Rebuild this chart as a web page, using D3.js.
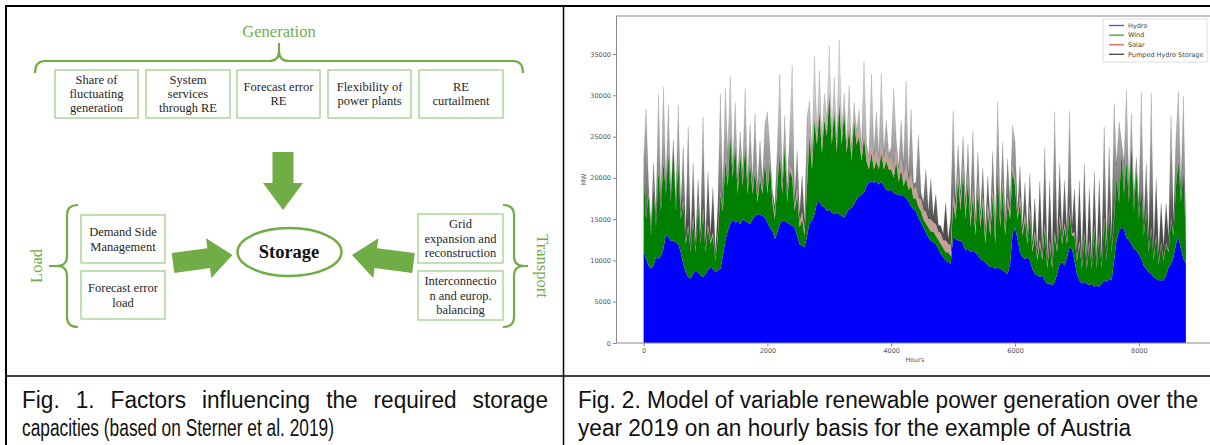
<!DOCTYPE html>
<html>
<head>
<meta charset="utf-8">
<script src="https://cdn.jsdelivr.net/npm/d3@7"></script>
<style>
  html, body { margin: 0; padding: 0; background: #fff; }
  svg { display: block; }
</style>
</head>
<body>
<div id="fig"></div>
<script>
// one sample every 40 h over the year (values below in GW)
const hours = d3.range(0, 8761, 40)

const hydro = [
  11.2, 10.2, 9.4, 9.0, 9.4, 10.4, 10.2, 10.6, 11.4, 13.2,
  12.8, 12.4, 12.4, 12.2, 12.0, 11.0, 9.6, 8.6, 8.0, 7.8,
  8.4, 8.8, 8.6, 8.2, 8.0, 8.4, 8.8, 9.2, 9.0, 8.6,
  8.8, 9.0, 10.6, 12.4, 13.6, 14.4, 15.0, 14.6, 14.8, 14.4,
  15.0, 14.8, 14.6, 14.4, 15.0, 15.4, 15.6, 15.6, 15.4, 15.2,
  14.6, 14.0, 13.6, 12.6, 13.4, 14.4, 14.8, 14.8, 14.6, 14.4,
  14.2, 14.0, 13.0, 12.0, 11.8, 11.6, 13.0, 14.6, 14.8, 15.6,
  17.0, 17.2, 16.6, 16.4, 16.0, 16.2, 15.8, 15.6, 15.8, 15.6,
  15.4, 15.2, 15.8, 16.2, 16.4, 16.8, 17.4, 17.8, 18.0, 18.2,
  19.0, 19.4, 19.6, 19.4, 19.6, 19.2, 19.6, 19.0, 18.6, 18.4,
  18.6, 18.2, 18.0, 18.0, 17.8, 17.8, 17.6, 17.2, 16.6, 16.2,
  16.0, 15.2, 14.6, 14.0, 13.4, 12.8, 12.4, 12.2, 12.0, 11.4,
  10.8, 10.4, 10.0, 9.8, 9.6, 12.8, 12.6, 12.4, 12.4, 12.0,
  11.2, 11.4, 11.0, 11.2, 11.0, 10.6, 10.2, 10.0, 9.8, 9.4,
  9.2, 9.2, 9.0, 9.2, 9.0, 8.8, 8.6, 8.4, 9.6, 13.2,
  14.0, 12.6, 11.0, 10.4, 10.2, 10.4, 10.0, 9.0, 8.4, 8.2,
  8.0, 8.2, 7.6, 7.2, 7.2, 7.0, 7.4, 8.4, 9.6, 9.8,
  9.4, 10.4, 11.6, 11.4, 10.0, 8.4, 7.6, 7.2, 7.4, 7.2,
  7.0, 7.2, 6.8, 7.0, 6.8, 7.2, 7.6, 7.4, 7.8, 7.6,
  10.0, 12.4, 13.6, 14.0, 13.8, 12.8, 12.4, 12.0, 11.4, 11.2,
  10.8, 10.2, 9.4, 9.0, 8.6, 8.4, 8.0, 7.8, 7.6, 7.6,
  7.6, 8.2, 9.2, 9.6, 10.4, 12.0, 12.8, 11.4, 10.2, 9.6
]

const wind = [
  9.8, 4.8, 8.6, 4.0, 9.6, 3.6, 10.8, 5.4, 10.6, 4.8,
  10.2, 4.6, 11.6, 3.8, 10.0, 4.0, 7.4, 3.4, 6.0, 3.2,
  6.6, 2.2, 8.4, 3.8, 8.0, 2.6, 5.2, 2.8, 4.0, 1.4,
  4.2, 9.0, 5.4, 9.6, 5.4, 10.6, 5.0, 9.4, 3.2, 8.6,
  4.0, 9.2, 3.4, 7.6, 3.0, 5.6, 1.4, 4.4, 2.6, 6.8,
  3.4, 8.0, 3.4, 2.4, 5.6, 8.6, 3.2, 9.2, 2.4, 6.6,
  5.8, 2.0, 5.0, 2.0, 3.2, 1.4, 6.0, 10.4, 6.2, 11.4,
  7.0, 10.8, 6.4, 10.6, 9.0, 13.8, 8.2, 12.4, 7.2, 13.4,
  8.6, 12.8, 7.2, 9.8, 5.6, 10.2, 6.6, 7.2, 4.0, 6.8,
  3.0, 1.6, 3.4, 1.6, 2.4, 1.8, 3.4, 2.0, 3.4, 2.6,
  2.4, 1.8, 4.0, 1.5, 3.2, 1.2, 2.4, 1.3, 2.4, 1.3,
  1.5, 1.3, 1.4, 1.0, 1.1, 1.2, 1.1, 1.3, 1.0, 1.1,
  1.2, 1.1, 1.0, 1.2, 0.9, 4.2, 2.4, 7.6, 3.6, 9.0,
  3.8, 8.6, 3.0, 6.8, 2.0, 8.4, 3.8, 7.0, 2.2, 6.6,
  3.8, 8.8, 3.0, 11.8, 5.0, 10.2, 4.4, 8.6, 5.4, 7.8,
  5.0, 2.4, 6.0, 2.6, 4.8, 1.6, 6.0, 2.0, 4.6, 1.8,
  4.0, 1.8, 6.4, 1.8, 4.8, 2.0, 5.6, 2.6, 5.4, 2.2,
  4.6, 1.6, 4.4, 1.6, 3.0, 1.6, 4.4, 1.8, 5.6, 1.8,
  5.0, 1.8, 7.2, 2.0, 6.2, 1.8, 7.4, 2.6, 8.2, 3.4,
  5.0, 7.6, 3.4, 9.0, 4.2, 9.2, 4.6, 12.0, 4.6, 9.8,
  4.2, 8.8, 3.6, 7.0, 2.4, 5.6, 2.0, 5.2, 1.9, 4.4,
  2.4, 3.8, 1.8, 5.4, 2.6, 7.0, 9.2, 5.6, 10.8, 2.4
]

const solar = [
  0.2, 0.1, 0.3, 0.1, 0.2, 0.1, 0.3, 0.2, 0.2, 0.1,
  0.3, 0.1, 0.3, 0.2, 0.3, 0.1, 0.3, 0.2, 0.3, 0.2,
  0.4, 0.2, 0.4, 0.2, 0.4, 0.2, 0.4, 0.3, 0.4, 0.2,
  0.4, 0.3, 0.5, 0.3, 0.5, 0.3, 0.5, 0.4, 0.5, 0.3,
  0.6, 0.4, 0.6, 0.4, 0.6, 0.4, 0.7, 0.4, 0.6, 0.4,
  0.7, 0.5, 0.7, 0.5, 0.7, 0.5, 0.8, 0.5, 0.7, 0.5,
  0.8, 0.5, 0.8, 0.6, 0.9, 0.6, 0.8, 0.6, 0.9, 0.6,
  0.9, 0.6, 1.0, 0.7, 0.9, 0.6, 1.0, 0.7, 0.9, 0.7,
  1.0, 0.7, 1.1, 0.8, 1.1, 0.8, 1.1, 0.8, 1.2, 0.9,
  1.3, 0.9, 1.4, 1.0, 1.3, 0.9, 1.4, 1.0, 1.4, 1.0,
  1.4, 1.0, 1.5, 1.0, 1.4, 1.1, 1.5, 1.0, 1.4, 1.1,
  1.4, 1.0, 1.4, 1.1, 1.4, 1.0, 1.5, 1.1, 1.4, 1.0,
  1.3, 0.9, 1.4, 1.0, 1.3, 0.9, 1.3, 0.9, 1.3, 0.9,
  1.2, 0.8, 1.2, 0.9, 1.1, 0.8, 1.1, 0.8, 1.0, 0.8,
  1.0, 0.7, 1.0, 0.7, 0.9, 0.7, 0.9, 0.7, 0.8, 0.6,
  0.8, 0.6, 0.8, 0.5, 0.7, 0.5, 0.7, 0.5, 0.6, 0.4,
  0.6, 0.4, 0.6, 0.4, 0.5, 0.3, 0.5, 0.3, 0.5, 0.3,
  0.5, 0.3, 0.5, 0.3, 0.4, 0.2, 0.4, 0.2, 0.4, 0.2,
  0.4, 0.2, 0.4, 0.2, 0.3, 0.2, 0.3, 0.2, 0.3, 0.1,
  0.3, 0.1, 0.3, 0.1, 0.2, 0.1, 0.2, 0.1, 0.2, 0.1,
  0.2, 0.1, 0.2, 0.1, 0.2, 0.1, 0.2, 0.1, 0.2, 0.1,
  0.2, 0.1, 0.2, 0.1, 0.2, 0.1, 0.2, 0.1, 0.2, 0.1
]

const phs = [
  0.8, 13.2, 0.7, 0.9, 2.6, 1.2, 8.8, 0.8, 8.8, 0.9,
  5.5, 0.8, 0.4, 0.8, 6.5, 0.9, 6.5, 0.8, 11.9, 0.8,
  6.4, 0.8, 2.4, 0.7, 11.0, 0.8, 6.3, 0.7, 5.4, 0.7,
  3.3, 11.9, 1.2, 8.6, 3.2, 7.0, 0.6, 4.7, 1.2, 2.3,
  1.0, 6.4, 0.9, 4.1, 1.0, 6.4, 0.9, 4.1, 0.9, 4.1,
  9.3, 1.0, 0.8, 1.0, 3.8, 9.1, 0.8, 3.0, 0.8, 3.9,
  12.8, 0.9, 4.5, 0.9, 4.4, 0.9, 7.5, 3.7, 1.2, 7.1,
  0.7, 4.4, 0.6, 2.5, 1.2, 5.4, 0.6, 3.5, 0.7, 7.0,
  0.6, 1.5, 0.1, 4.4, 0.5, 1.3, 0.6, 2.4, 0.5, 8.2,
  0.9, 0.6, 8.2, 1.0, 4.7, 0.6, 8.3, 1.0, 3.6, 0.9,
  1.3, 9.8, 1.2, 0.7, 4.5, 1.4, 10.2, 0.7, 7.9, 0.7,
  0.6, 7.7, 0.8, 0.9, 5.1, 0.9, 4.9, 0.7, 3.6, 0.8,
  0.9, 0.8, 4.6, 0.5, 3.3, 10.2, 0.8, 3.1, 0.9, 3.1,
  1.0, 3.3, 0.9, 6.8, 0.5, 3.3, 0.5, 3.4, 0.6, 3.4,
  0.6, 4.5, 0.6, 7.5, 0.7, 4.6, 0.7, 4.6, 0.8, 4.7,
  4.6, 0.4, 3.6, 0.5, 3.7, 0.5, 3.8, 0.5, 3.9, 0.6,
  7.0, 0.6, 9.0, 0.6, 7.1, 0.7, 14.5, 0.7, 6.2, 0.7,
  5.2, 0.7, 11.6, 0.7, 5.3, 0.8, 7.3, 0.8, 8.4, 0.8,
  6.4, 0.8, 6.4, 0.8, 6.5, 0.8, 10.9, 1.3, 7.5, 1.4,
  13.7, 1.4, 9.5, 1.4, 3.6, 8.5, 1.3, 3.7, 1.3, 1.4,
  1.3, 11.3, 1.3, 5.7, 1.3, 16.2, 1.4, 6.8, 1.1, 4.8,
  1.4, 4.8, 1.4, 12.4, 1.4, 5.8, 8.3, 1.4, 8.7, 0.9
]

const seriesNames = ['Hydro', 'Wind', 'Solar', 'Pumped Hydro Storage']
const xTicks = [0, 2000, 4000, 6000, 8000]
const yTicks = [0, 5000, 10000, 15000, 20000, 25000, 30000, 35000]

const genFactors = [
  ['Share of', 'fluctuating', 'generation'],
  ['System', 'services', 'through RE'],
  ['Forecast error', 'RE'],
  ['Flexibility of', 'power plants'],
  ['RE', 'curtailment']
]
const loadFactors = [['Demand Side', 'Management'], ['Forecast error', 'load']]
const transportFactors = [['Grid', 'expansion and', 'reconstruction'], ['Interconnectio', 'n and europ.', 'balancing']]

const W = 1210
const H = 445
const green = '#70ad47'
const boxLine = '#a3cf8c'
const serif = "'Liberation Serif', 'Times New Roman', serif"
const narrow = "'Liberation Sans Narrow', 'Arial Narrow', 'Liberation Sans', Arial, sans-serif"
const sans = "'DejaVu Sans', sans-serif"

const svg = d3.select('#fig').append('svg')
  .attr('width', W)
  .attr('height', H)
  .attr('viewBox', `0 0 ${W} ${H}`)

svg.append('rect').attr('width', W).attr('height', H).attr('fill', '#fff')

const defs = svg.append('defs')

// ---------- left panel: influencing factors ----------
const diag = svg.append('g')

diag.append('text')
  .attr('x', 279).attr('y', 37)
  .attr('text-anchor', 'middle')
  .attr('font-family', serif).attr('font-size', 16.5)
  .attr('fill', green)
  .text('Generation')

const braceStyle = function (sel) {
  sel.attr('fill', 'none').attr('stroke', green).attr('stroke-width', 2.2)
}

diag.append('path')
  .attr('d', 'M35,73 Q35,61 45,61 L269,61 Q279,61 279,51 L279,43 M279,51 Q279,61 289,61 L513,61 Q523,61 523,73')
  .call(braceStyle)
diag.append('path')
  .attr('d', 'M78,205 Q67,205 67,215 L67,256 Q67,266 57,266 L49,266 M57,266 Q67,266 67,276 L67,317 Q67,327 78,327')
  .call(braceStyle)
diag.append('path')
  .attr('d', 'M503,205 Q514,205 514,215 L514,256 Q514,266 524,266 L528,266 M524,266 Q514,266 514,276 L514,317 Q514,327 503,327')
  .call(braceStyle)

const factorBox = function (lines, x0, x1, y0, y1, lineGap) {
  const g = diag.append('g')
  g.append('rect')
    .attr('x', x0).attr('y', y0)
    .attr('width', x1 - x0).attr('height', y1 - y0)
    .attr('fill', '#fff').attr('stroke', boxLine).attr('stroke-width', 1.3)
  const cy = (y0 + y1) / 2
  lines.forEach(function (t, i) {
    g.append('text')
      .attr('x', (x0 + x1) / 2)
      .attr('y', cy + (i - (lines.length - 1) / 2) * lineGap)
      .attr('dy', '0.35em')
      .attr('text-anchor', 'middle')
      .attr('font-family', serif).attr('font-size', 12.5)
      .attr('fill', '#262626')
      .text(t)
  })
}

const genX = [[55, 138], [146, 230], [237, 320], [328, 411], [419, 503]]
genFactors.forEach(function (lines, i) {
  factorBox(lines, genX[i][0], genX[i][1], 70, 118, 14)
})
factorBox(loadFactors[0], 81, 165, 215, 263, 14.5)
factorBox(loadFactors[1], 81, 165, 271, 319, 14.5)
factorBox(transportFactors[0], 418, 503, 214, 263, 14.5)
factorBox(transportFactors[1], 418, 503, 271, 320, 14.5)

diag.append('text')
  .attr('transform', 'translate(36,266) rotate(-90)')
  .attr('dy', '0.35em')
  .attr('text-anchor', 'middle')
  .attr('font-family', serif).attr('font-size', 16.5)
  .attr('fill', green)
  .text('Load')

diag.append('text')
  .attr('transform', 'translate(543,266) rotate(90)')
  .attr('dy', '0.35em')
  .attr('text-anchor', 'middle')
  .attr('font-family', serif).attr('font-size', 16.5)
  .attr('fill', green)
  .text('Transport')

const arrowPath = function (len, shaft, head, headLen) {
  const s = shaft / 2
  const h = head / 2
  const b = len - headLen
  return `M0,${-s}L${b},${-s}L${b},${-h}L${len},0L${b},${h}L${b},${s}L0,${s}Z`
}

diag.append('path')
  .attr('transform', 'translate(283,152) rotate(90)')
  .attr('d', arrowPath(58, 21, 40, 27))
  .attr('fill', green)
diag.append('path')
  .attr('transform', 'translate(173,263) rotate(-7.7)')
  .attr('d', arrowPath(60, 20, 40, 24))
  .attr('fill', green)
diag.append('path')
  .attr('transform', 'translate(413.5,263) rotate(187.4)')
  .attr('d', arrowPath(62, 20, 40, 24))
  .attr('fill', green)

diag.append('ellipse')
  .attr('cx', 289.5).attr('cy', 252)
  .attr('rx', 52).attr('ry', 24)
  .attr('fill', '#fff').attr('stroke', green).attr('stroke-width', 2.5)
diag.append('text')
  .attr('x', 289).attr('y', 252)
  .attr('dy', '0.33em')
  .attr('text-anchor', 'middle')
  .attr('font-family', serif).attr('font-size', 18.5).attr('font-weight', 'bold')
  .attr('fill', '#111')
  .text('Storage')

// ---------- right panel: stacked generation ----------
const x = d3.scaleLinear().domain([-438, 9198]).range([616.5, 1213])
const y = d3.scaleLinear().domain([0, 39600]).range([343, 16])

const rows = hours.map(function (h, i) {
  return {
    hour: h,
    hydro: hydro[i] * 1000,
    wind: wind[i] * 1000,
    solar: solar[i] * 1000,
    phs: phs[i] * 1000
  }
})
const layers = d3.stack().keys(['hydro', 'wind', 'solar', 'phs'])(rows)

defs.append('clipPath').attr('id', 'plotClip')
  .append('rect')
  .attr('x', x.range()[0]).attr('y', y.range()[1])
  .attr('width', x.range()[1] - x.range()[0])
  .attr('height', y.range()[0] - y.range()[1])

defs.append('filter').attr('id', 'soft')
  .append('feGaussianBlur').attr('stdDeviation', 0.55)

const grad = defs.append('linearGradient').attr('id', 'phsGrad')
  .attr('gradientUnits', 'userSpaceOnUse')
  .attr('x1', 0).attr('x2', 0)
  .attr('y1', y(14000)).attr('y2', y(37000))
grad.append('stop').attr('offset', 0).attr('stop-color', '#000').attr('stop-opacity', 0.7)
grad.append('stop').attr('offset', 0.5).attr('stop-color', '#222').attr('stop-opacity', 0.36)
grad.append('stop').attr('offset', 1).attr('stop-color', '#666').attr('stop-opacity', 0.12)

const layerFill = ['#0000ff', '#008000', '#a0604f', 'url(#phsGrad)']
const layerOpacity = [1, 1, 0.6, 1]

const area = d3.area()
  .x(d => x(d.data.hour))
  .y0(d => y(d[0]))
  .y1(d => y(d[1]))

const plot = svg.append('g')
  .attr('clip-path', 'url(#plotClip)')
  .append('g')
  .attr('filter', 'url(#soft)')

plot.selectAll('path.layer')
  .data(layers)
  .enter()
  .append('path')
  .attr('class', 'layer')
  .attr('d', area)
  .attr('fill', (d, i) => layerFill[i])
  .attr('fill-opacity', (d, i) => layerOpacity[i])

plot.append('path')
  .datum(layers[3])
  .attr('d', d3.line().x(d => x(d.data.hour)).y(d => y(d[1])))
  .attr('fill', 'none')
  .attr('stroke', '#000')
  .attr('stroke-opacity', 0.2)
  .attr('stroke-width', 0.6)

// spines
const spine = '#8a8a8a'
svg.append('rect')
  .attr('x', x.range()[0]).attr('y', y.range()[1])
  .attr('width', x.range()[1] - x.range()[0])
  .attr('height', y.range()[0] - y.range()[1])
  .attr('fill', 'none').attr('stroke', spine).attr('stroke-width', 1)

const styleAxis = function (g) {
  g.select('.domain').remove()
  g.selectAll('line').attr('stroke', spine)
  g.selectAll('text')
    .attr('font-family', sans).attr('font-size', 6.5)
    .attr('fill', '#555')
}

svg.append('g')
  .attr('transform', `translate(0,${y.range()[0]})`)
  .call(d3.axisBottom(x).tickValues(xTicks).tickFormat(d3.format('d')).tickSize(3.5).tickPadding(2))
  .call(styleAxis)

svg.append('g')
  .attr('transform', `translate(${x.range()[0]},0)`)
  .call(d3.axisLeft(y).tickValues(yTicks).tickFormat(d3.format('d')).tickSize(3.5).tickPadding(2))
  .call(styleAxis)

svg.append('text')
  .attr('x', (x.range()[0] + x.range()[1]) / 2).attr('y', 362)
  .attr('text-anchor', 'middle')
  .attr('font-family', sans).attr('font-size', 6.5).attr('fill', '#555')
  .text('Hours')

svg.append('text')
  .attr('transform', `translate(586,${(y.range()[0] + y.range()[1]) / 2}) rotate(-90)`)
  .attr('text-anchor', 'middle')
  .attr('font-family', sans).attr('font-size', 6.5).attr('fill', '#555')
  .text('MW')

// legend
const legendColors = ['#4a4aff', '#3fa23f', '#e0674f', '#444']
const legend = svg.append('g').attr('transform', 'translate(1103,19)')
legend.append('rect')
  .attr('width', 104).attr('height', 43)
  .attr('fill', '#fff').attr('fill-opacity', 0.85)
  .attr('stroke', '#d4d4d4').attr('stroke-width', 0.8)
seriesNames.forEach(function (name, i) {
  const ly = 6.5 + i * 9.6
  legend.append('line')
    .attr('x1', 6).attr('x2', 21)
    .attr('y1', ly).attr('y2', ly)
    .attr('stroke', legendColors[i]).attr('stroke-width', 1.3)
  legend.append('text')
    .attr('x', 25).attr('y', ly)
    .attr('dy', '0.35em')
    .attr('font-family', sans).attr('font-size', 6.5).attr('fill', '#444')
    .text(name)
})

// ---------- table frame ----------
const frame = svg.append('g').attr('stroke', '#000')
frame.append('line').attr('x1', 5).attr('x2', W).attr('y1', 6).attr('y2', 6).attr('stroke-width', 2)
frame.append('line').attr('x1', 6).attr('x2', 6).attr('y1', 5).attr('y2', H).attr('stroke-width', 2)
frame.append('line').attr('x1', 563.5).attr('x2', 563.5).attr('y1', 5).attr('y2', H).attr('stroke-width', 1.5)
frame.append('line').attr('x1', 5).attr('x2', W).attr('y1', 376).attr('y2', 376).attr('stroke-width', 1.5)

// ---------- captions (condensed sans, first lines justified) ----------
const captionSize = 23
const cap = svg.append('g')
  .attr('font-family', narrow).attr('font-size', captionSize)
  .attr('fill', '#111')

const natural = function (t) {
  const n = cap.append('text').text(t)
  const w = n.node().getComputedTextLength()
  n.remove()
  return w
}

// glyph squeeze read from the unjustified Fig. 2 lines
const squeeze = (1131 - 578) / natural('year 2019 on an hourly basis for the example of Austria')

const justifiedLine = function (text, x0, x1, yb) {
  const words = text.split(' ')
  const widths = words.map(w => natural(w) * squeeze)
  const gap = (x1 - x0 - d3.sum(widths)) / (words.length - 1)
  let cx = x0
  words.forEach(function (w, i) {
    cap.append('text')
      .attr('x', cx).attr('y', yb)
      .attr('textLength', widths[i])
      .attr('lengthAdjust', 'spacingAndGlyphs')
      .text(w)
    cx += widths[i] + gap
  })
}

const lastLine = function (text, x0, x1, yb) {
  cap.append('text')
    .attr('x', x0).attr('y', yb)
    .attr('textLength', x1 - x0)
    .attr('lengthAdjust', 'spacingAndGlyphs')
    .text(text)
}

justifiedLine('Fig. 1. Factors influencing the required storage', 22, 548, 408)
lastLine('capacities (based on Sterner et al. 2019)', 22, 334, 436)
justifiedLine('Fig. 2. Model of variable renewable power generation over the', 578, 1198, 408)
lastLine('year 2019 on an hourly basis for the example of Austria', 578, 1131, 436)
</script>
</body>
</html>
